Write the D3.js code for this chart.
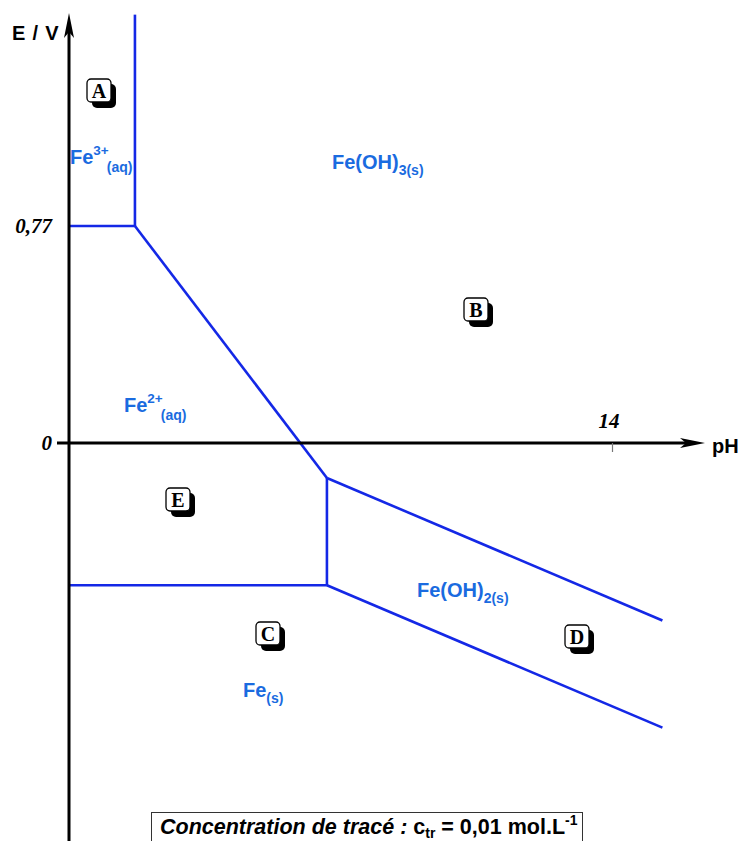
<!DOCTYPE html>
<html>
<head>
<meta charset="utf-8">
<script src="https://cdn.jsdelivr.net/npm/d3@7"></script>
<style>
  html, body { margin: 0; padding: 0; background: #fff; }
  svg { display: block; }
</style>
</head>
<body>
<svg id="chart" width="743" height="841"></svg>
<script>
// Potential–pH diagram of iron (trace concentration 0.01 mol/L)

// Axis ticks
const pHTicks = [14];
const pHTickLabels = ["14"];
const eTicks = [0, 0.77];
const eTickLabels = ["0", "0,77"];

// Frontier lines: each is a list of [pH, E] points
const lineFe3Fe2 = [[0, 0.77], [1.70, 0.77]];
const lineFe3FeOH3 = [[1.70, 0.77], [1.70, 1.52]];
const lineFeOH3Fe2 = [[1.70, 0.77], [6.65, -0.124]];
const lineFe2FeOH2 = [[6.65, -0.124], [6.65, -0.505]];
const lineFe2Fe = [[0, -0.505], [6.65, -0.505]];
const lineFeOH3FeOH2 = [[6.65, -0.124], [15.3, -0.63]];
const lineFeOH2Fe = [[6.65, -0.505], [15.3, -1.01]];

const frontiers = [lineFe3Fe2, lineFe3FeOH3, lineFeOH3Fe2, lineFe2FeOH2,
                   lineFe2Fe, lineFeOH3FeOH2, lineFeOH2Fe];

// Domain letters and species names
const domainLetters = ["A", "B", "E", "C", "D"];
const speciesMain = ["Fe", "Fe(OH)", "Fe", "Fe(OH)", "Fe"];
const speciesSup = ["3+", "", "2+", "", ""];
const speciesSub = ["(aq)", "3(s)", "(aq)", "2(s)", "(s)"];

const svg = d3.select("#chart");
const x = d3.scaleLinear().domain([0, 14]).range([69, 612]);
const y = d3.scaleLinear().domain([0, 0.77]).range([443, 226]);

const lineGen = d3.line().x(d => x(d[0])).y(d => y(d[1]));

// Frontiers
svg.append("g")
  .selectAll("path")
  .data(frontiers)
  .join("path")
  .attr("d", lineGen)
  .attr("fill", "none")
  .attr("stroke", "#1428e6")
  .attr("stroke-width", 2.6)
  .attr("stroke-linejoin", "miter");

// Axes
const axisColor = "#000";
const yTopPx = 15;
const xRightPx = 703;

// Vertical axis
svg.append("line")
  .attr("x1", x(0)).attr("x2", x(0))
  .attr("y1", 841).attr("y2", yTopPx + 14)
  .attr("stroke", axisColor).attr("stroke-width", 3);
svg.append("path")
  .attr("d", `M${x(0)},${yTopPx - 2} L${x(0) - 5},${yTopPx + 23} L${x(0)},${yTopPx + 17} L${x(0) + 5},${yTopPx + 23} Z`)
  .attr("fill", axisColor);

// Horizontal axis (starts a little left of the E axis)
svg.append("line")
  .attr("x1", 57).attr("x2", xRightPx - 14)
  .attr("y1", y(0)).attr("y2", y(0))
  .attr("stroke", axisColor).attr("stroke-width", 3);
svg.append("path")
  .attr("d", `M${xRightPx + 2},${y(0)} L${xRightPx - 23},${y(0) - 5} L${xRightPx - 17},${y(0)} L${xRightPx - 23},${y(0) + 5} Z`)
  .attr("fill", axisColor);

// pH tick
const xAxis = d3.axisBottom(x).tickValues(pHTicks).tickSize(9).tickFormat("");
const gx = svg.append("g").attr("transform", `translate(0,${y(0)})`).call(xAxis);
gx.select(".domain").remove();
gx.selectAll(".tick line").attr("stroke", "#777").attr("stroke-width", 1.2);

svg.selectAll(".phlab")
  .data(pHTicks)
  .join("text")
  .attr("class", "phlab")
  .attr("x", d => x(d) - 3)
  .attr("y", y(0) - 15)
  .attr("text-anchor", "middle")
  .attr("font-family", "'Liberation Serif', 'Times New Roman', serif")
  .attr("font-style", "italic")
  .attr("font-weight", "bold")
  .attr("font-size", 21)
  .text((d, i) => pHTickLabels[i]);

// E tick labels
svg.selectAll(".elab")
  .data(eTicks)
  .join("text")
  .attr("class", "elab")
  .attr("x", 52)
  .attr("y", d => y(d) + 7)
  .attr("text-anchor", "end")
  .attr("font-family", "'Liberation Serif', 'Times New Roman', serif")
  .attr("font-style", "italic")
  .attr("font-weight", "bold")
  .attr("font-size", 21)
  .text((d, i) => eTickLabels[i]);

// Axis titles
svg.append("text")
  .attr("x", 12).attr("y", 40)
  .attr("font-family", "'Liberation Sans', Arial, sans-serif")
  .attr("font-weight", "bold")
  .attr("font-size", 20)
  .attr("letter-spacing", 0.8)
  .text("E / V");
svg.append("text")
  .attr("x", 712).attr("y", 453)
  .attr("font-family", "'Liberation Sans', Arial, sans-serif")
  .attr("font-weight", "bold")
  .attr("font-size", 20)
  .text("pH");

// Domain letter boxes (pixel centres)
const letterPos = [[99, 91], [476, 310], [178, 500], [268, 634], [577, 637]];
const boxes = svg.append("g").selectAll("g")
  .data(domainLetters)
  .join("g")
  .attr("transform", (d, i) => `translate(${letterPos[i][0]},${letterPos[i][1]})`);
boxes.append("rect")
  .attr("x", -12 + 5).attr("y", -12 + 5)
  .attr("width", 24).attr("height", 24)
  .attr("rx", 5)
  .attr("fill", "#000");
boxes.append("rect")
  .attr("x", -12).attr("y", -12)
  .attr("width", 24).attr("height", 23)
  .attr("rx", 4)
  .attr("fill", "#fff")
  .attr("stroke", "#000")
  .attr("stroke-width", 1.3);
boxes.append("text")
  .attr("x", 0).attr("y", 7)
  .attr("text-anchor", "middle")
  .attr("font-family", "'Liberation Serif', 'Times New Roman', serif")
  .attr("font-weight", "bold")
  .attr("font-size", 20)
  .text(d => d);

// Species names
const speciesPos = [[70, 164], [332, 169], [124, 412], [417, 597], [243, 697]];
const speciesColor = "#1a6be0";
const sp = svg.append("g")
  .attr("font-family", "'Liberation Sans', Arial, sans-serif")
  .attr("font-weight", "bold")
  .attr("fill", speciesColor)
  .selectAll("text")
  .data(speciesMain)
  .join("text")
  .attr("x", (d, i) => speciesPos[i][0])
  .attr("y", (d, i) => speciesPos[i][1])
  .attr("font-size", 20);
sp.each(function (d, i) {
  const t = d3.select(this);
  t.append("tspan").text(d);
  if (speciesSup[i]) {
    t.append("tspan").attr("font-size", 13.5).attr("dy", -9).text(speciesSup[i]);
    t.append("tspan").attr("font-size", 14).attr("dy", 17).attr("dx", -2).text(speciesSub[i]);
  } else {
    t.append("tspan").attr("font-size", 14).attr("dy", 6).text(speciesSub[i]);
  }
});

// Trace concentration caption
svg.append("rect")
  .attr("x", 151.5).attr("y", 812.5)
  .attr("width", 431).attr("height", 40)
  .attr("fill", "#fff")
  .attr("stroke", "#333")
  .attr("stroke-width", 1);
const cap = svg.append("text")
  .attr("x", 160).attr("y", 834)
  .attr("font-family", "'Liberation Sans', Arial, sans-serif")
  .attr("font-weight", "bold")
  .attr("font-size", 21.5)
  .attr("fill", "#000");
cap.append("tspan").attr("font-style", "italic").text("Concentration de tracé : ");
cap.append("tspan").text("c");
cap.append("tspan").attr("font-size", 14).attr("dy", 4).text("tr");
cap.append("tspan").attr("dy", -4).text(" = 0,01 mol.L");
cap.append("tspan").attr("font-size", 14).attr("dy", -9).text("-1");
</script>
</body>
</html>
